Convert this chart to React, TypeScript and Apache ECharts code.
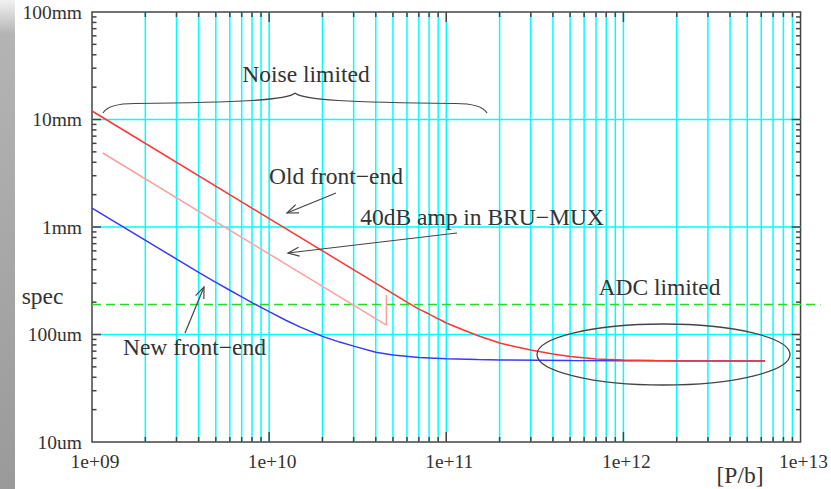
import React, { useEffect, useRef } from 'react';
import * as echarts from 'echarts';

// ---- axis definitions ----
const X_TICK_VALUES = [1e9, 1e10, 1e11, 1e12, 1e13];
const X_TICK_LABELS = ['1e+09', '1e+10', '1e+11', '1e+12', '1e+13'];
const Y_TICK_VALUES = [0.01, 0.1, 1, 10, 100];
const Y_TICK_LABELS = ['10um', '100um', '1mm', '10mm', '100mm'];
const MINOR_STEPS = [2, 3, 4, 5, 6, 7, 8, 9];
const X_AXIS_NAME = '[P/b]';

// ---- series values (x in P/b, y in mm) ----
const NEW_FRONT_END: [number, number][] = [
  [1e9, 1.5], [4e9, 0.378], [5e9, 0.306], [6e9, 0.258], [7e9, 0.224], [8e9, 0.198],
  [1e10, 0.163], [1.25e10, 0.135], [1.5e10, 0.117], [2e10, 0.096], [2.5e10, 0.085],
  [3e10, 0.078], [4e10, 0.0685], [5e10, 0.0645], [7e10, 0.061], [1e11, 0.0595],
  [1.5e11, 0.0585], [2e11, 0.058], [5e11, 0.0572], [1e12, 0.057], [6.3e12, 0.0567],
];
const AMP_40DB: [number, number][] = [
  [1.15e9, 4.88], [4.59e10, 0.122], [4.59e10, 0.233],
];
const OLD_FRONT_END: [number, number][] = [
  [1e9, 12.0], [5e10, 0.24], [6e10, 0.2], [7e10, 0.172], [8e10, 0.155], [9e10, 0.14],
  [1e11, 0.128], [1.25e11, 0.11], [1.5e11, 0.098], [2e11, 0.0834], [2.5e11, 0.0765],
  [3e11, 0.0718], [4e11, 0.066], [5e11, 0.0625], [7e11, 0.0591], [1e12, 0.058],
  [1.5e12, 0.0572], [2e12, 0.0568], [6.3e12, 0.0567],
];
const SPEC_MM = 0.19;

const SERIF = '"Liberation Serif", "DejaVu Serif", serif';
const isMajor = (v: number) => Math.abs(Math.log10(v) - Math.round(Math.log10(v))) < 1e-6;
const labelFor = (vals: number[], labels: string[]) => (v: number) => {
  const i = vals.findIndex((t) => Math.abs(Math.log10(t) - Math.log10(v)) < 1e-6);
  return i >= 0 ? labels[i] : '';
};

const X_GRID: number[] = [];
for (let d = 9; d < 13; d++) {
  MINOR_STEPS.forEach((s) => X_GRID.push(s * Math.pow(10, d)));
  if (d < 12) X_GRID.push(Math.pow(10, d + 1));
}
const Y_GRID: number[] = [];
for (let d = -2; d < 2; d++) {
  MINOR_STEPS.forEach((s) => Y_GRID.push(s * Math.pow(10, d)));
  if (d < 1) Y_GRID.push(Math.pow(10, d + 1));
}

const AX = '#444';
const CYAN = '#00ffff';
const ANN = '#444';

function arrow(x1: number, y1: number, x2: number, y2: number) {
  const a = Math.atan2(y2 - y1, x2 - x1);
  const L = 12, s = 0.38;
  return [
    { type: 'line', z: 100, shape: { x1, y1, x2, y2 }, style: { stroke: ANN, lineWidth: 1.2 } },
    {
      type: 'polyline', z: 100,
      shape: {
        points: [
          [x2 - L * Math.cos(a - s), y2 - L * Math.sin(a - s)],
          [x2, y2],
          [x2 - L * Math.cos(a + s), y2 - L * Math.sin(a + s)],
        ],
      },
      style: { stroke: ANN, lineWidth: 1.2, fill: 'none' },
    },
  ];
}

function txt(text: string, x: number, y: number, size = 23.5) {
  return {
    type: 'text', z: 100, x, y,
    style: {
      text, fill: '#333', font: `${size}px ${SERIF}`,
      align: 'center', verticalAlign: 'middle', textAlign: 'center', textVerticalAlign: 'middle',
    },
  };
}

export default function App() {
  const ref = useRef<HTMLDivElement>(null);
  useEffect(() => {
    if (!ref.current) return;
    const chart = echarts.init(ref.current, undefined, { renderer: 'svg' });
    const bez = (x1: number, y1: number, cpx1: number, cpy1: number, cpx2: number, cpy2: number, x2: number, y2: number) => ({
      type: 'bezierCurve', z: 100,
      shape: { x1, y1, cpx1, cpy1, cpx2, cpy2, x2, y2 },
      style: { stroke: ANN, lineWidth: 1.2, fill: 'none' },
    });
    const option: any = {
      animation: false,
      backgroundColor: '#ffffff',
      grid: { left: 92, top: 12, right: 29, bottom: 47, show: true, borderColor: AX, borderWidth: 1.5, backgroundColor: 'transparent' },
      xAxis: {
        type: 'log', logBase: 10, min: 1e9, max: 1e13,
        axisLine: { show: false }, axisTick: { show: false }, splitLine: { show: false },
        axisLabel: {
          formatter: labelFor(X_TICK_VALUES, X_TICK_LABELS),
          fontFamily: SERIF, fontSize: 19.5, color: '#333', margin: 9, padding: [0, 0, 0, 6],
          showMinLabel: true, showMaxLabel: true, hideOverlap: false,
        },
      },
      yAxis: {
        type: 'log', logBase: 10, min: 0.01, max: 100,
        axisLine: { show: false }, axisTick: { show: false }, splitLine: { show: false },
        axisLabel: {
          formatter: labelFor(Y_TICK_VALUES, Y_TICK_LABELS),
          fontFamily: SERIF, fontSize: 19.5, color: '#333', margin: 10, padding: [7, 0, 0, 0],
          showMinLabel: true, showMaxLabel: true, hideOverlap: false,
        },
      },
      series: [
        {
          type: 'custom', name: 'xgrid', silent: true, clip: false,
          data: X_GRID.map((v) => [v, 0.01]),
          encode: { x: 0, y: 1 },
          renderItem: (params: any, api: any) => {
            const v = api.value(0);
            const cs = params.coordSys;
            const p = api.coord([v, 0.01]);
            const len = isMajor(v) ? 10 : 5;
            const top = cs.y, bot = cs.y + cs.height;
            return {
              type: 'group',
              children: [
                { type: 'line', shape: { x1: p[0], y1: top, x2: p[0], y2: bot }, style: { stroke: CYAN, lineWidth: 1.5 } },
                { type: 'line', shape: { x1: p[0], y1: bot, x2: p[0], y2: bot - len }, style: { stroke: AX, lineWidth: 1.5 } },
                { type: 'line', shape: { x1: p[0], y1: top, x2: p[0], y2: top + len }, style: { stroke: AX, lineWidth: 1.5 } },
              ],
            };
          },
        },
        {
          type: 'custom', name: 'ygrid', silent: true, clip: false,
          data: Y_GRID.map((v) => [1e9, v]),
          encode: { x: 0, y: 1 },
          renderItem: (params: any, api: any) => {
            const v = api.value(1);
            const cs = params.coordSys;
            const p = api.coord([1e9, v]);
            const major = isMajor(v);
            const len = major ? 9 : 4.5;
            const l = cs.x, r = cs.x + cs.width;
            const children: any[] = [
              { type: 'line', shape: { x1: l, y1: p[1], x2: l + len, y2: p[1] }, style: { stroke: AX, lineWidth: 1.5 } },
              { type: 'line', shape: { x1: r, y1: p[1], x2: r - len, y2: p[1] }, style: { stroke: AX, lineWidth: 1.5 } },
            ];
            if (major) {
              children.unshift({ type: 'line', shape: { x1: l, y1: p[1], x2: r, y2: p[1] }, style: { stroke: CYAN, lineWidth: 1.5 } });
            }
            return { type: 'group', children };
          },
        },
        {
          type: 'custom', name: 'spec', silent: true, clip: false, z: 3,
          data: [[1e9, SPEC_MM]],
          encode: { x: 0, y: 1 },
          renderItem: (params: any, api: any) => {
            const cs = params.coordSys;
            const p = api.coord([api.value(0), api.value(1)]);
            return {
              type: 'line',
              shape: { x1: p[0], y1: p[1], x2: cs.x + cs.width + 20, y2: p[1] },
              style: { stroke: '#22dd22', lineWidth: 1.5, lineDash: [9, 5] },
            };
          },
        },
        {
          type: 'line', name: 'New front-end', data: NEW_FRONT_END, showSymbol: false, symbol: 'none',
          smooth: false, z: 4,
          lineStyle: { color: '#3a3aff', width: 1.5 },
        },
        {
          type: 'line', name: '40dB amp in BRU-MUX', data: AMP_40DB, showSymbol: false, symbol: 'none',
          smooth: false, z: 4,
          lineStyle: { color: '#ffa0a0', width: 1.5 },
        },
        {
          type: 'line', name: 'Old front-end', data: OLD_FRONT_END, showSymbol: false, symbol: 'none',
          smooth: false, z: 5,
          lineStyle: { color: '#ff3535', width: 1.5 },
        },
      ],
      graphic: [
        {
          type: 'rect', z: 0, shape: { x: 0, y: 0, width: 15, height: 489 },
          style: {
            fill: new echarts.graphic.LinearGradient(0, 0, 0, 1, [
              { offset: 0, color: '#f2f2f2' },
              { offset: 0.07, color: '#b4b4b4' },
              { offset: 1, color: '#9a9a9a' },
            ]),
          },
        },
        txt('Noise limited', 306, 74),
        txt('Old front\u2212end', 336, 175.5),
        txt('40dB amp in BRU\u2212MUX', 482, 216.5),
        txt('ADC limited', 659.5, 287),
        txt('New front\u2212end', 194.5, 346.5),
        txt('spec', 42.5, 296),
        txt(X_AXIS_NAME, 740, 475),
        ...arrow(336, 193, 287, 213),
        ...arrow(457, 233, 288, 253),
        ...arrow(185, 333, 204, 287),
        bez(103, 113, 107, 106, 118, 103.5, 135, 103.5),
        bez(135, 103.5, 240, 102.5, 288, 100, 295, 93),
        bez(487, 113, 483, 106, 472, 103.5, 455, 103.5),
        bez(455, 103.5, 350, 102.5, 302, 100, 295, 93),
        {
          type: 'ellipse', z: 100, shape: { cx: 663.5, cy: 354.5, rx: 126.5, ry: 30.5 },
          style: { stroke: ANN, lineWidth: 1.3, fill: 'none' },
        },
      ],
    };
    chart.setOption(option);
    return () => chart.dispose();
  }, []);
  return (
    <div
      ref={ref}
      style={{ position: 'absolute', left: 0, top: 0, width: 831, height: 489, background: '#fff' }}
    />
  );
}
